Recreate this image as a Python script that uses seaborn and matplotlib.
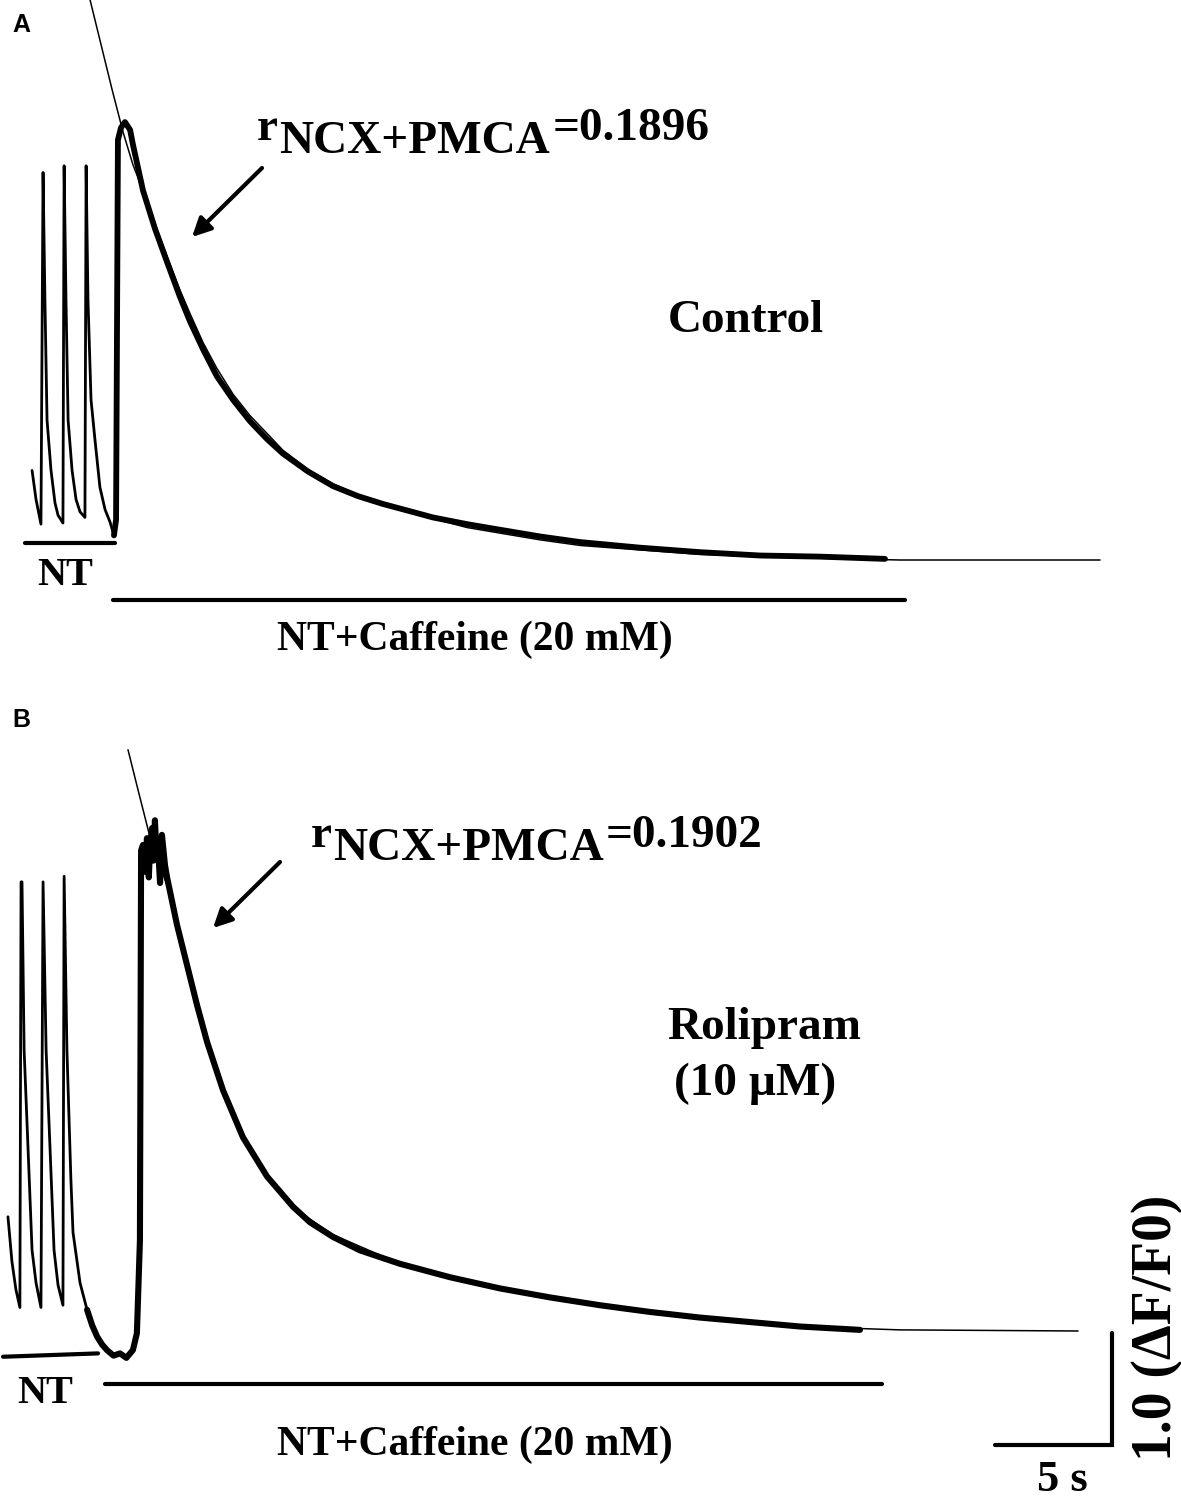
import matplotlib.pyplot as plt
import seaborn as sns

# ---- panel A (control): time in s, signal in dF/F0 ----
a_nt_t = [1.37, 1.54, 1.75, 1.84, 1.92, 2.01, 2.18, 2.35, 2.48, 2.69, 2.74, 2.82, 2.91, 3.08, 3.25,
          3.42, 3.63, 3.68, 3.76, 3.89, 4.06, 4.27, 4.49, 4.70, 4.87]
a_nt_v = [0.80, 0.54, 0.32, 3.46, 2.32, 1.25, 0.80, 0.51, 0.40, 0.33, 3.52, 2.32, 1.25, 0.80, 0.54,
          0.43, 0.38, 3.52, 2.32, 1.43, 1.07, 0.65, 0.45, 0.34, 0.22]
a_caf_t = [4.87, 4.96, 5.04, 5.17, 5.34, 5.56, 5.68, 6.11, 6.62, 7.14, 7.69, 8.12, 8.68, 9.27, 9.96,
           10.68, 11.41, 12.09, 13.16, 14.23, 15.30, 16.37, 17.44, 18.50, 19.96, 21.37, 23.08,
           24.79, 27.35, 29.91, 32.48, 35.04, 37.82]
a_caf_v = [0.22, 0.36, 3.75, 3.86, 3.91, 3.84, 3.71, 3.30, 2.96, 2.66, 2.35, 2.13, 1.88, 1.64, 1.43,
           1.24, 1.08, 0.95, 0.79, 0.66, 0.57, 0.50, 0.44, 0.38, 0.32, 0.27, 0.21,
           0.16, 0.11, 0.07, 0.04, 0.03, 0.01]
a_fit_t = [3.85, 4.32, 4.79, 5.26, 5.68, 6.11, 6.62, 7.14, 7.69, 8.12, 8.68, 9.27, 9.96, 10.68,
           11.41, 12.09, 13.16, 14.23, 15.30, 16.37, 17.44, 18.50, 19.96, 21.37, 23.08, 24.79,
           27.35, 29.91, 34.19, 38.46, 42.74, 47.01]
a_fit_v = [5.00, 4.60, 4.20, 3.82, 3.53, 3.30, 3.00, 2.71, 2.41, 2.20, 1.94, 1.71, 1.48, 1.29,
           1.13, 0.98, 0.81, 0.68, 0.58, 0.50, 0.43, 0.37, 0.29, 0.24, 0.18, 0.13,
           0.09, 0.05, 0.02, 0.00, 0.00, 0.00]
a_nt_period = [1.07, 4.91]
a_caf_period = [4.83, 38.68]
a_rate = "0.1896"

# ---- panel B (rolipram 10 uM) ----
b_nt_t = [0.34, 0.51, 0.68, 0.85, 0.90, 0.94, 1.03, 1.20, 1.37, 1.54, 1.75, 1.84, 1.97, 2.14, 2.31,
          2.48, 2.69, 2.74, 2.86, 3.03, 3.12, 3.42, 3.72]
b_nt_v = [1.02, 0.62, 0.37, 0.21, 4.01, 4.01, 2.51, 1.62, 0.72, 0.43, 0.21, 4.01, 2.51, 1.62, 0.72,
          0.41, 0.23, 4.06, 2.51, 1.35, 0.88, 0.43, 0.19]
b_caf_t = [3.72, 3.94, 4.15, 4.36, 4.57, 4.85, 5.13, 5.40, 5.68, 5.85, 5.98, 6.03, 6.11, 6.20, 6.28,
           6.36, 6.41, 6.50, 6.56, 6.62, 6.70, 6.75, 6.84, 6.92, 7.05, 7.14, 7.56, 7.99,
           8.42, 8.85, 9.53, 10.38, 11.41, 12.52, 13.25, 14.23, 15.38, 17.09, 19.23, 21.37, 23.50,
           25.64, 27.78, 29.91, 32.05, 34.19, 36.75]
b_caf_v = [0.19, 0.05, -0.05, -0.12, -0.17, -0.22, -0.20, -0.24, -0.17, -0.02, 0.81, 4.29, 4.34,
           4.10, 4.40, 4.05, 4.31, 4.49, 4.20, 4.56, 4.22, 4.34, 4.00, 4.43, 4.16, 4.05, 3.63,
           3.27, 2.91, 2.58, 2.15, 1.73, 1.38, 1.11, 0.97, 0.84, 0.72, 0.60, 0.48, 0.38, 0.30,
           0.23, 0.17, 0.12, 0.08, 0.04, 0.01]
b_fit_t = [5.47, 5.90, 6.41, 6.84, 7.26, 7.69, 8.12, 8.55, 9.19, 9.83, 10.68, 11.54, 12.82, 14.23,
           17.09, 21.37, 25.64, 29.91, 34.19, 38.46, 46.07]
b_fit_v = [5.19, 4.83, 4.41, 4.16, 3.90, 3.52, 3.18, 2.82, 2.36, 2.01, 1.64, 1.35, 1.06, 0.86,
           0.60, 0.37, 0.22, 0.12, 0.04, 0.01, 0.00]
b_nt_period = [0.13, 4.19]
b_caf_period = [4.49, 37.69]
b_rate = "0.1902"

scale_s = 5.0
scale_df = 1.0

W, H = 1181, 1500
sns.set_theme(style="white")
plt.rcParams["font.family"] = ["Liberation Serif", "DejaVu Serif"]
plt.rcParams["text.color"] = "black"

fig = plt.figure(figsize=(W / 100, H / 100), dpi=100)
fig.patch.set_facecolor("white")
xmax = W / 23.4

axA = fig.add_axes([0, 1 - 700 / H, 1, 700 / H])
axA.set_xlim(0, xmax)
axA.set_ylim(-1.25, 5.0)
axB = fig.add_axes([0, 0, 1, 800 / H])
axB.set_xlim(0, xmax)
axB.set_ylim(-1.509, 5.634)
for ax in (axA, axB):
    ax.axis("off")
    ax.set_facecolor("none")


def trace(ax, x, y, lw):
    sns.lineplot(x=x, y=y, ax=ax, sort=False, estimator=None, color="black", lw=lw,
                 solid_joinstyle="round", solid_capstyle="round")


trace(axA, a_nt_t, a_nt_v, 2.0)
trace(axA, a_caf_t, a_caf_v, 4.2)
trace(axA, a_fit_t, a_fit_v, 1.1)
trace(axB, b_nt_t, b_nt_v, 2.0)
trace(axB, b_caf_t, b_caf_v, 4.4)
trace(axB, b_fit_t, b_fit_v, 1.1)

# solution bars
axA.plot(a_nt_period, [0.15, 0.15], color="black", lw=3)
axA.plot(a_caf_period, [-0.36, -0.36], color="black", lw=3)
axB.plot(b_nt_period, [-0.23, -0.20], color="black", lw=3)
axB.plot(b_caf_period, [-0.47, -0.47], color="black", lw=3)

# scale bar
x0, y0 = 42.52, -1.02
axB.plot([x0, x0 + scale_s, x0 + scale_s], [y0, y0, y0 + scale_df], color="black", lw=3,
         solid_joinstyle="miter")


def ftext(x, y, s, **kw):
    kw.setdefault("fontweight", "bold")
    kw.setdefault("color", "black")
    fig.text(x / W, 1 - y / H, s, **kw)


ftext(12, 13, "A", family="Liberation Sans", fontsize=18, va="top", ha="left")
ftext(12, 708, "B", family="Liberation Sans", fontsize=18, va="top", ha="left")

for (rx, rb, nx, nb, ex), rate in (((257, 140, 279, 153, 553), a_rate),
                                   ((311, 847, 333, 860, 606), b_rate)):
    ftext(rx, rb, "r", fontsize=34, va="baseline", ha="left")
    ftext(nx, nb, "NCX+PMCA", fontsize=34, va="baseline", ha="left")
    ftext(ex, rb, "=" + rate, fontsize=34, va="baseline", ha="left")

for tail, head in (((262, 168), (192, 237)), ((280, 862), (213, 928))):
    axA.annotate("", xy=(head[0] / W, 1 - head[1] / H), xycoords="figure fraction",
                 xytext=(tail[0] / W, 1 - tail[1] / H), textcoords="figure fraction",
                 arrowprops=dict(arrowstyle="-|>", color="black", lw=3, mutation_scale=28,
                                 shrinkA=0, shrinkB=0),
                 annotation_clip=False)

ftext(746, 332, "Control", fontsize=34, va="baseline", ha="center")
ftext(764, 1039, "Rolipram", fontsize=34, va="baseline", ha="center")
ftext(755, 1095, "(10 \u00b5M)", fontsize=34, va="baseline", ha="center")

ftext(65, 585, "NT", fontsize=29, va="baseline", ha="center")
ftext(45, 1403, "NT", fontsize=29, va="baseline", ha="center")
ftext(475, 650, "NT+Caffeine (20 mM)", fontsize=30, va="baseline", ha="center")
ftext(475, 1455, "NT+Caffeine (20 mM)", fontsize=30, va="baseline", ha="center")

ftext(1062, 1491, "5 s", fontsize=32, va="baseline", ha="center")
ftext(1157, 1328, "1.0 (\u0394F/F0)", fontsize=40, va="center", ha="center", rotation=90)

fig.savefig("out.png", dpi=100, facecolor="white")
